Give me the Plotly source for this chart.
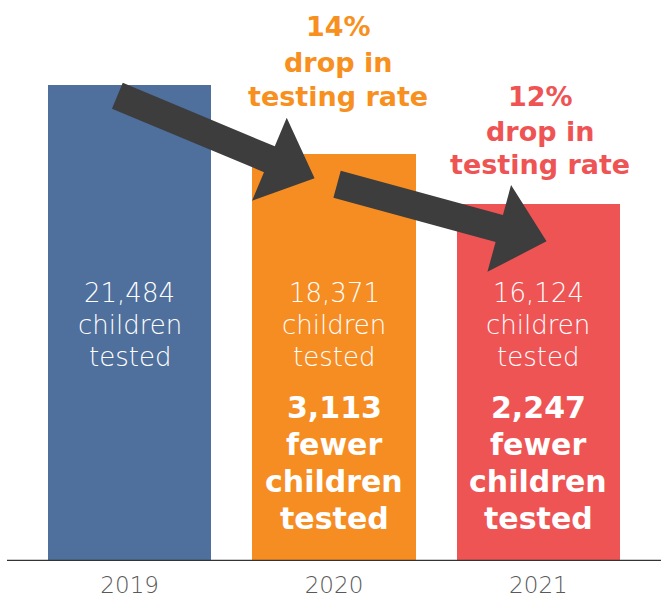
import math
import plotly.graph_objects as go

# ---- data ----
years = ["2019", "2020", "2021"]
tested = [21484, 18371, 16124]
tested_labels = ["21,484", "18,371", "16,124"]
fewer_labels = [None, "3,113", "2,247"]
drop_labels = [None, "14%", "12%"]
bar_colors = ["#4f6f9c", "#f68d23", "#ef5455"]
text_colors = [None, "#f7901e", "#ef5455"]

# ---- layout geometry ----
W, H = 661, 599
L, R, T, B = 7, 0, 0, 38
PW, PH = W - L - R, H - T - B
X0, X1 = -0.6, 2.6
YMAX = 25320

def x2px(x):
    return L + (x - X0) / (X1 - X0) * PW

def y2py(y):
    return T + PH - y / YMAX * PH

def px2x(px):
    return X0 + (px - L) / PW * (X1 - X0)

def py2y(py):
    return (T + PH - py) / PH * YMAX

fig = go.Figure()
fig.add_trace(go.Bar(
    x=[0, 1, 2], y=tested, width=0.8,
    marker=dict(color=bar_colors, line=dict(width=0)),
    hoverinfo="skip",
))

# ---- arrows (tail / tip in data units) ----
arrows = [((-0.06, 21000), (0.905, 17280)), ((1.015, 17000), (2.04, 14430))]
SHAFT, HEAD_W, HEAD_L = 28, 90, 49

for (xa, ya), (xb, yb) in arrows:
    ax, ay = x2px(xa), y2py(ya)
    bx, by = x2px(xb), y2py(yb)
    dx, dy = bx - ax, by - ay
    n = math.hypot(dx, dy)
    ux, uy = dx / n, dy / n
    nx, ny = -uy, ux
    cx, cy = bx - ux * HEAD_L, by - uy * HEAD_L
    pts = [
        (ax + nx * SHAFT / 2, ay + ny * SHAFT / 2),
        (cx + nx * SHAFT / 2, cy + ny * SHAFT / 2),
        (cx + nx * HEAD_W / 2, cy + ny * HEAD_W / 2),
        (bx, by),
        (cx - nx * HEAD_W / 2, cy - ny * HEAD_W / 2),
        (cx - nx * SHAFT / 2, cy - ny * SHAFT / 2),
        (ax - nx * SHAFT / 2, ay - ny * SHAFT / 2),
    ]
    path = "M " + " L ".join(f"{px2x(px):.5f},{py2y(py):.2f}" for px, py in pts) + " Z"
    fig.add_shape(type="path", path=path, xref="x", yref="y",
                  fillcolor="#3d3d3d", line=dict(width=0), layer="above")

# baseline
fig.add_shape(type="line", xref="paper", yref="y", x0=0, x1=1, y0=0, y1=0,
              line=dict(color="#333333", width=2.5), layer="above")

LIGHT = "DejaVu Sans"
BOLD = "DejaVu Sans"

# text inside bars
light_rows = [293, 325, 357]
bold_rows = [407, 444, 481, 518]
for i in range(3):
    for line, py in zip([tested_labels[i], "children", "tested"], light_rows):
        fig.add_annotation(x=i, y=py2y(py), text=line, showarrow=False,
                           font=dict(family=LIGHT, size=26, color="white", weight=200),
                           xanchor="center", yanchor="middle")
    if fewer_labels[i]:
        for line, py in zip([fewer_labels[i], "fewer", "children", "tested"], bold_rows):
            fig.add_annotation(x=i, y=py2y(py), text=f"<b>{line}</b>", showarrow=False,
                               font=dict(family=BOLD, size=30, color="white"),
                               xanchor="center", yanchor="middle")

# drop labels above bars
drop_rows = {1: [26, 62, 96], 2: [96, 131, 164]}
drop_x = {1: 338, 2: 540}
for i in (1, 2):
    for line, py in zip([drop_labels[i], "drop in", "testing rate"], drop_rows[i]):
        fig.add_annotation(x=px2x(drop_x[i]), y=py2y(py), text=f"<b>{line}</b>",
                           showarrow=False,
                           font=dict(family=BOLD, size=27, color=text_colors[i]),
                           xanchor="center", yanchor="middle")

fig.update_layout(
    width=W, height=H,
    margin=dict(l=L, r=R, t=T, b=B, autoexpand=False),
    paper_bgcolor="white", plot_bgcolor="white",
    showlegend=False, bargap=0,
    xaxis=dict(range=[X0, X1], tickvals=[0, 1, 2], ticktext=years,
               showgrid=False, zeroline=False, showline=False, automargin=False,
               ticks="outside", ticklen=3, tickcolor="rgba(0,0,0,0)",
               tickfont=dict(family=LIGHT, size=23, color="#595959", weight=200)),
    yaxis=dict(range=[0, YMAX], visible=False, showgrid=False, zeroline=False,
               automargin=False),
)

fig.write_html("out.html", config={"displayModeBar": False},
               post_script="document.body.style.margin='0';")
